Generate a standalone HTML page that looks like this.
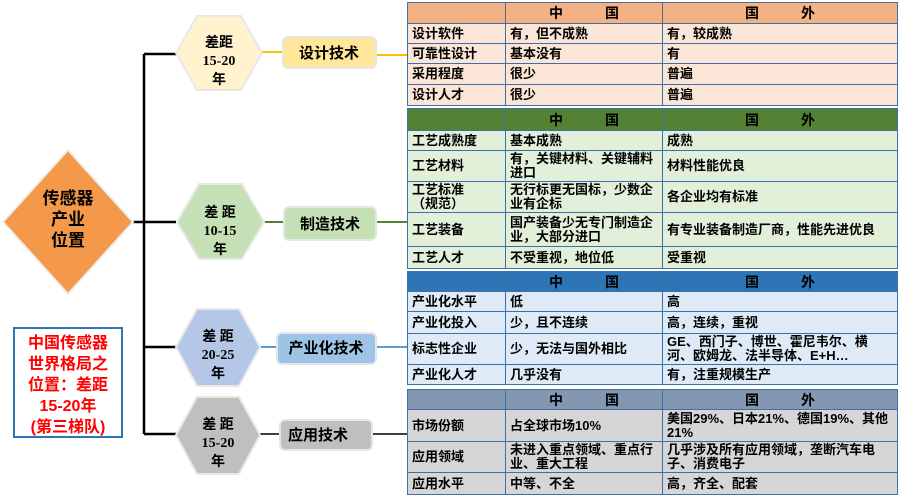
<!DOCTYPE html>
<html><head><meta charset="utf-8"><style>
body{margin:0;width:900px;height:498px;background:#fff;position:relative;overflow:hidden;font-family:"Liberation Sans","Noto Sans CJK SC",sans-serif;}
svg{position:absolute;left:0;top:0}
table{position:absolute;left:407px;width:490px;border-collapse:collapse;table-layout:fixed;font-weight:bold;font-size:13px;line-height:14px;}
td{border:1.5px solid #3d6fa8;padding:0 4px;vertical-align:middle;white-space:normal;overflow:hidden}
th{border:1.5px solid #3d6fa8;font-size:14px;}
col.a{width:98px}col.b{width:157px}col.c{width:235px}
</style></head><body>
<svg width="900" height="498">
<g stroke="#000" stroke-width="2.5" fill="none">
<path d="M144 54V434M144 54H176M133 222H176M144 347H176M144 434H176"/>
</g>
<path d="M262 52H283M376 55H407" stroke="#FFC000" stroke-width="2"/>
<path d="M264 222H284M376 222H407" stroke="#548235" stroke-width="2"/>
<path d="M260 347H277M376 347H407" stroke="#5B9BD5" stroke-width="2"/>
<path d="M260 434H280M372 434H407" stroke="#404040" stroke-width="2"/>
<polygon points="68,150 133,222 68,294 3,222" fill="#F4994A" stroke="#eee" stroke-width="2"/>
<text x="68" y="204" text-anchor="middle" font-size="17" font-weight="bold" font-family="Liberation Sans,Noto Sans CJK SC,sans-serif">传感器</text>
<text x="68" y="225" text-anchor="middle" font-size="17" font-weight="bold" font-family="Liberation Sans,Noto Sans CJK SC,sans-serif">产业</text>
<text x="68" y="246" text-anchor="middle" font-size="17" font-weight="bold" font-family="Liberation Sans,Noto Sans CJK SC,sans-serif">位置</text>
<g stroke="#e8e8e8" stroke-width="2" font-family="Liberation Serif,Noto Sans CJK SC,serif" font-weight="bold" text-anchor="middle">
<polygon points="176,53 197,16 241,16 262,53 241,90 197,90" fill="#FFF2CC"/>
<polygon points="177,222 199,184 242,184 264,222 242,259 199,259" fill="#C5E0B4"/>
<polygon points="176,347 197,309 239,309 260,347 239,386 197,386" fill="#B4C7E7"/>
<polygon points="176,435 197,397 239,397 260,435 239,474 197,474" fill="#BFBFBF"/>
</g>
<g font-family="Liberation Serif,Noto Sans CJK SC,serif" font-weight="bold" text-anchor="middle" font-size="14">
<text x="219" y="47">差距</text><text x="219" y="65">15-20</text><text x="219" y="84">年</text>
<text x="220" y="217">差 距</text><text x="220" y="235">10-15</text><text x="220" y="254">年</text>
<text x="218" y="341">差 距</text><text x="218" y="359">20-25</text><text x="218" y="378">年</text>
<text x="218" y="429">差 距</text><text x="218" y="447">15-20</text><text x="218" y="466">年</text>
</g>
<g stroke="#e6e6e6" stroke-width="2">
<rect x="283" y="37" width="93" height="31" rx="5" fill="#FFE699"/>
<rect x="284" y="207" width="92" height="33" rx="5" fill="#C5E0B4"/>
<rect x="277" y="333" width="99" height="31" rx="5" fill="#9DC3E6"/>
<rect x="280" y="420" width="92" height="30" rx="5" fill="#BFBFBF"/>
</g>
<g font-family="Liberation Sans,Noto Sans CJK SC,sans-serif" font-weight="bold" font-size="15" text-anchor="middle">
<text x="329" y="58">设计技术</text><text x="330" y="229">制造技术</text><text x="326" y="353">产业化技术</text><text x="318" y="440">应用技术</text>
</g>
<rect x="14" y="328" width="108" height="109" fill="#fff" stroke="#2E75B6" stroke-width="2"/>
<g font-family="Liberation Sans,Noto Sans CJK SC,sans-serif" font-weight="bold" font-size="16" fill="#FF0000" text-anchor="middle">
<text x="68" y="348">中国传感器</text><text x="68" y="369">世界格局之</text><text x="68" y="390">位置：差距</text><text x="68" y="411">15-20年</text><text x="68" y="432">(第三梯队)</text>
</g>
</svg>
<table style="top:2px;background:#FBE5D6"><colgroup><col class="a"><col class="b"><col class="c"></colgroup>
<tr style="height:21px;background:#F4B183"><th></th><th>中　　　国</th><th>国　　　外</th></tr>
<tr style="height:20px"><td>设计软件</td><td>有，但不成熟</td><td>有，较成熟</td></tr>
<tr style="height:20px"><td>可靠性设计</td><td>基本没有</td><td>有</td></tr>
<tr style="height:21px"><td>采用程度</td><td>很少</td><td>普遍</td></tr>
<tr style="height:21px"><td>设计人才</td><td>很少</td><td>普遍</td></tr></table>
<table style="top:108px;background:#E2F0D9"><colgroup><col class="a"><col class="b"><col class="c"></colgroup>
<tr style="height:22px;background:#548235"><th></th><th>中　　　国</th><th>国　　　外</th></tr>
<tr style="height:20px"><td>工艺成熟度</td><td>基本成熟</td><td>成熟</td></tr>
<tr style="height:31px"><td>工艺材料</td><td>有，关键材料、关键辅料进口</td><td>材料性能优良</td></tr>
<tr style="height:31px"><td>工艺标准<br>（规范）</td><td>无行标更无国标，少数企业有企标</td><td>各企业均有标准</td></tr>
<tr style="height:34px"><td>工艺装备</td><td>国产装备少无专门制造企业，大部分进口</td><td>有专业装备制造厂商，性能先进优良</td></tr>
<tr style="height:22px"><td>工艺人才</td><td>不受重视，地位低</td><td>受重视</td></tr></table>
<table style="top:271px;background:#DEEBF7"><colgroup><col class="a"><col class="b"><col class="c"></colgroup>
<tr style="height:20px;background:#2E75B6"><th></th><th>中　　　国</th><th>国　　　外</th></tr>
<tr style="height:20px"><td>产业化水平</td><td>低</td><td>高</td></tr>
<tr style="height:22px"><td>产业化投入</td><td>少，且不连续</td><td>高，连续，重视</td></tr>
<tr style="height:31px"><td>标志性企业</td><td>少，无法与国外相比</td><td>GE、西门子、博世、霍尼韦尔、横河、欧姆龙、法半导体、E+H…</td></tr>
<tr style="height:20px"><td>产业化人才</td><td>几乎没有</td><td>有，注重规模生产</td></tr></table>
<table style="top:389px;background:#D6D6D6"><colgroup><col class="a"><col class="b"><col class="c"></colgroup>
<tr style="height:20px;background:#8497B0"><th></th><th>中　　　国</th><th>国　　　外</th></tr>
<tr style="height:32px"><td>市场份额</td><td>占全球市场10%</td><td>美国29%、日本21%、德国19%、其他21%</td></tr>
<tr style="height:31px"><td>应用领域</td><td>未进入重点领域、重点行业、重大工程</td><td>几乎涉及所有应用领域，垄断汽车电子、消费电子</td></tr>
<tr style="height:22px"><td>应用水平</td><td>中等、不全</td><td>高，齐全、配套</td></tr></table>
</body></html>
